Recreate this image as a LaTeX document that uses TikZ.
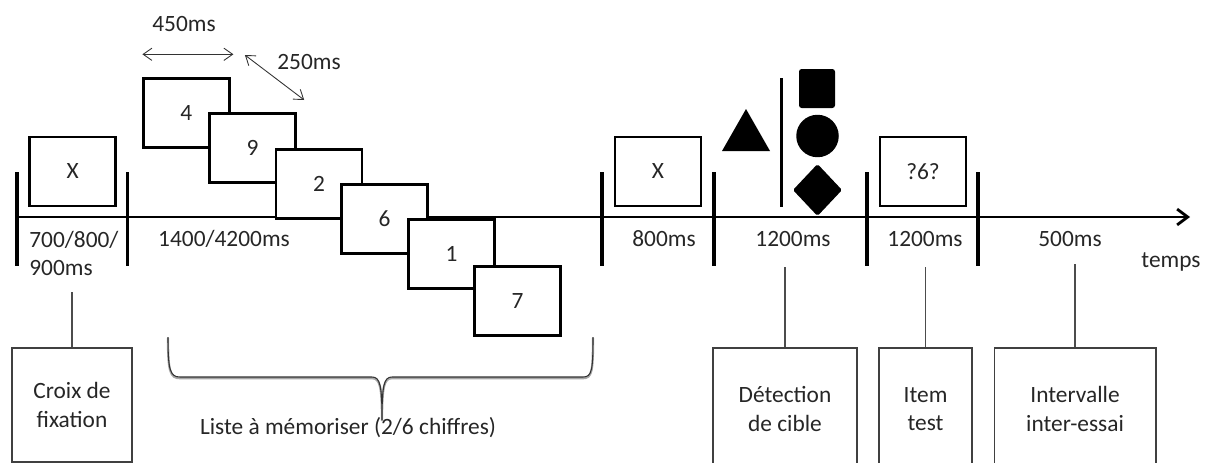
\documentclass[tikz,border=0pt]{standalone}
\usepackage{fontspec}
\setmainfont{Carlito}
\usepackage{tikz}
\usetikzlibrary{arrows.meta}
\newcommand{\lblfont}{\fontsize{13.3}{16}\selectfont}

\begin{document}
\begin{tikzpicture}[x=0.02cm, y=-0.02cm,
    every node/.style={text=black!85, font=\lblfont},
    screen/.style={draw=black, line width=1.6pt, fill=white, minimum width=1.72cm, minimum height=1.38cm, inner sep=0pt},
    infobox/.style={draw=black!75, line width=0.6pt, align=center, inner sep=0pt},
    tickmark/.style={line width=2pt},
    link/.style={draw=black!70, line width=0.6pt},
    durarrow/.style={{Straight Barb[length=5pt,width=7pt]}-{Straight Barb[length=5pt,width=7pt]}, line width=0.5pt, black!80},
    timeline/.style={-{Straight Barb[length=6pt,width=9pt]}, line width=1.6pt}]
  \useasboundingbox (0,0) rectangle (1207,463);
  \clip (0,0) rectangle (1207,463);
  %--- Time axis
  \coordinate (t0)   at (15,217);
  \coordinate (tend) at (1190,217);
  \draw[timeline] (t0) -- (tend);
  \node (temps) at (1171,262) {temps};
  %--- Phase limits
  \foreach \tx in {17,127.5,602,714,867,978}
    \draw[tickmark] (\tx,172) -- (\tx,266);
  %--- Durations
  \node[anchor=west, align=left, inner sep=0pt] (d700) at (29,253.5) {700/800/\\900ms};
  \node (d1400)  at (224,239)  {1400/4200ms};
  \node (d800)   at (664,239)  {800ms};
  \node (d1200a) at (793,239)  {1200ms};
  \node (d1200b) at (925,239)  {1200ms};
  \node (d500)   at (1070,239) {500ms};
  %--- Screens
  \node[screen] (fixX)  at (72.7,171.5) {X};
  \node[screen] (maskX) at (658,171.5)  {X};
  \node[screen] (probe) at (923,171.5)  {?6?};
  \foreach \dig/\cx/\cy in {4/186.4/112.8, 9/252.6/148, 2/319/183.7, 6/384.6/218.7, 1/451.6/254.2, 7/517.6/301}
    \node[screen] (dig\dig) at (\cx,\cy) {\dig};
  %--- Presentation and interval times
  \coordinate (a450l) at (142.4,54.3);
  \coordinate (a450r) at (233.4,54.3);
  \coordinate (a250a) at (244.9,55);
  \coordinate (a250b) at (304.2,100);
  \draw[durarrow] (a450l) -- (a450r);
  \draw[durarrow] (a250a) -- (a250b);
  \node (t450) at (184,24) {450ms};
  \node (t250) at (309,62) {250ms};
  %--- Target detection display
  \fill[line join=round] (722,151) -- (746,109) -- (770,151) -- cycle;
  \draw[line width=1.7pt] (781,78) -- (781,207);
  \fill[rounded corners=1.5pt] (799,69) rectangle (835,108);
  \fill (817.5,136) circle[radius=0.425cm];
  \fill[rounded corners=1pt] (817.5,164) -- (842,190) -- (817.5,216) -- (793,190) -- cycle;
  %--- Brace under the list
  \foreach \sh/\col/\lw in {1.2/black!35/1.3pt, 0/black!80/0.6pt}
    \draw[\col, line width=\lw, shift={(0,\sh)}]
      (168,337) .. controls (168,370) and (170,377) .. (180,377) -- (372,377)
      .. controls (380,377) and (382,385) .. (382,420)
      .. controls (382,385) and (384,377) .. (392,377) -- (583,377)
      .. controls (592,377) and (593,370) .. (593,337);
  \node (list) at (348,428) {Liste à mémoriser (2/6 chiffres)};
  %--- Phase names
  \node[infobox, minimum width=2.4cm,  minimum height=2.28cm] (fix)  at (72,405)    {Croix de\\fixation};
  \node[infobox, minimum width=2.88cm, minimum height=2.44cm] (det)  at (785,409)   {Détection\\de cible};
  \node[infobox, minimum width=1.86cm, minimum height=2.44cm] (item) at (925.5,409) {Item\\test};
  \node[infobox, minimum width=3.24cm, minimum height=2.44cm] (iti)  at (1075,409)  {Intervalle\\inter-essai};
  \coordinate (fixtop)  at (72,292);
  \coordinate (dettop)  at (785,267);
  \coordinate (itemtop) at (925.5,267);
  \coordinate (ititop)  at (1075,264);
  \draw[link] (fixtop)  -- (fix.north);
  \draw[link] (dettop)  -- (det.north);
  \draw[link] (itemtop) -- (item.north);
  \draw[link] (ititop)  -- (iti.north);
\end{tikzpicture}
\end{document}
